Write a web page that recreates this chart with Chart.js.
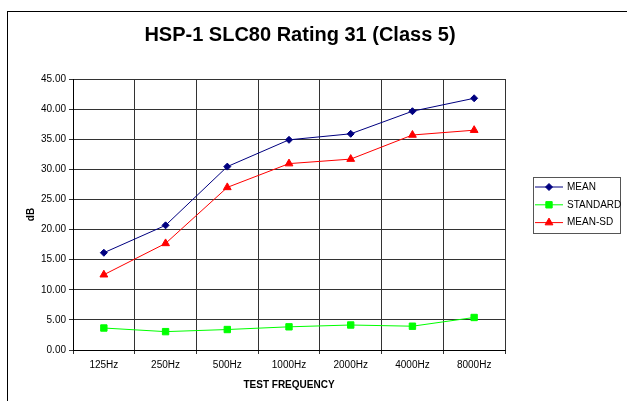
<!DOCTYPE html>
<html>
<head>
<meta charset="utf-8">
<script src="https://cdn.jsdelivr.net/npm/chart.js@4"></script>
<style>
  html, body { margin: 0; padding: 0; background: #fff; }
  #wrap { width: 627px; height: 401px; }
</style>
</head>
<body>
<div id="wrap"><canvas id="chart" width="627" height="401"></canvas></div>
<script>
const chartTitle = 'HSP-1 SLC80 Rating 31 (Class 5)';
const frequencies = ['125Hz', '250Hz', '500Hz', '1000Hz', '2000Hz', '4000Hz', '8000Hz'];
const meanValues = [16.15, 20.7, 30.45, 34.9, 35.9, 39.65, 41.8];
const standardValues = [3.65, 3.05, 3.4, 3.85, 4.15, 3.95, 5.4];
const meanSdValues = [12.5, 17.7, 27.0, 30.95, 31.7, 35.7, 36.5];

Chart.defaults.font.family = 'Arial, "Liberation Sans", sans-serif';
Chart.defaults.color = '#000';

// outer frame, centred title and boxed legend, drawn like the spreadsheet chart
const framePlugin = {
  id: 'frame',
  beforeDraw(chart) {
    const ctx = chart.ctx;
    ctx.save();
    ctx.fillStyle = '#fff';
    ctx.fillRect(0, 0, chart.width, chart.height);
    ctx.strokeStyle = '#000';
    ctx.lineWidth = 1;
    ctx.strokeRect(7.5, 11.5, 700, 500);
    ctx.restore();
  },
  afterDraw(chart) {
    const ctx = chart.ctx;
    ctx.save();
    ctx.fillStyle = '#000';
    ctx.font = 'bold 20px Arial, "Liberation Sans", sans-serif';
    ctx.textAlign = 'center';
    ctx.textBaseline = 'middle';
    ctx.fillText(chartTitle, 300, 35);

    ctx.textAlign = 'left';
    ctx.strokeStyle = '#555';
    ctx.lineWidth = 1;
    ctx.strokeRect(533.5, 177.5, 87, 56);
    ctx.font = '10px Arial, "Liberation Sans", sans-serif';
    chart.data.datasets.forEach((ds, i) => {
      const y = 187 + i * 17.8;
      ctx.strokeStyle = ds.borderColor;
      ctx.beginPath();
      ctx.moveTo(535, y);
      ctx.lineTo(563, y);
      ctx.stroke();
      ctx.fillStyle = ds.pointBackgroundColor;
      ctx.strokeStyle = ds.pointBackgroundColor;
      Chart.helpers.drawPoint(ctx, {
        pointStyle: ds.pointStyle,
        radius: ds.pointRadius,
        borderWidth: 1
      }, 549, y);
      ctx.fillStyle = '#000';
      ctx.fillText(ds.label, 567, y);
    });
    ctx.restore();
  }
};

new Chart(document.getElementById('chart'), {
  type: 'line',
  data: {
    labels: frequencies,
    datasets: [
      {
        label: 'MEAN',
        data: meanValues,
        borderColor: '#000080',
        backgroundColor: '#000080',
        pointBackgroundColor: '#000080',
        pointBorderColor: '#000080',
        pointStyle: 'rectRot',
        pointRadius: 3.5,
        borderWidth: 1
      },
      {
        label: 'STANDARD',
        data: standardValues,
        borderColor: '#00ff00',
        backgroundColor: '#00ff00',
        pointBackgroundColor: '#00ff00',
        pointBorderColor: '#00ff00',
        pointStyle: 'rect',
        pointRadius: 4.5,
        borderWidth: 1
      },
      {
        label: 'MEAN-SD',
        data: meanSdValues,
        borderColor: '#ff0000',
        backgroundColor: '#ff0000',
        pointBackgroundColor: '#ff0000',
        pointBorderColor: '#ff0000',
        pointStyle: 'triangle',
        pointRadius: 4.5,
        borderWidth: 1
      }
    ]
  },
  options: {
    responsive: false,
    animation: false,
    layout: { padding: { left: 20, right: 122, top: 79, bottom: 10 } },
    plugins: {
      legend: { display: false },
      tooltip: { enabled: false },
      title: { display: false }
    },
    scales: {
      x: {
        offset: true,
        grid: { offset: true, color: '#333', tickLength: 4, drawTicks: true },
        border: { color: '#000' },
        ticks: { font: { size: 10 }, padding: 5, maxRotation: 0, autoSkip: false },
        title: {
          display: true,
          text: 'TEST FREQUENCY',
          font: { size: 10, weight: 'bold' },
          padding: { top: 0, bottom: 0 }
        },
        afterFit(scale) { scale.height = 41; }
      },
      y: {
        min: 0,
        max: 45,
        grid: { color: '#333', tickLength: 4 },
        border: { color: '#000' },
        ticks: {
          stepSize: 5,
          font: { size: 10 },
          padding: 3,
          callback: v => v.toFixed(2)
        },
        title: {
          display: true,
          text: 'dB',
          font: { size: 10, weight: 'bold' },
          padding: { top: 5, bottom: 0 }
        },
        afterFit(scale) { scale.width = 53; }
      }
    }
  },
  plugins: [framePlugin]
});
</script>
</body>
</html>
